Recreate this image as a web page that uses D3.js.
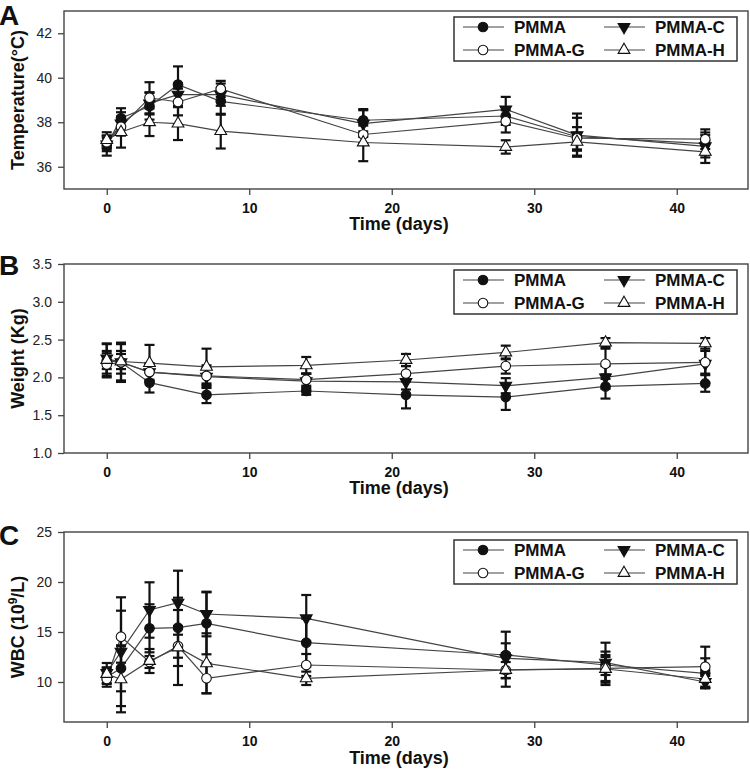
<!DOCTYPE html>
<html>
<head>
<meta charset="utf-8">
<script src="https://cdn.jsdelivr.net/npm/d3@7"></script>
<style>
  body { margin: 0; background: #fff; }
  svg { font-family: "Liberation Sans", Arial, sans-serif; }
</style>
</head>
<body>
<div id="chart"></div>
<script>
// series names (legend order: row 1 PMMA, PMMA-C; row 2 PMMA-G, PMMA-H)
const seriesNames = ['PMMA', 'PMMA-C', 'PMMA-G', 'PMMA-H'];
const xTicks = [0, 10, 20, 30, 40];

// A - temperature
const tempDays = [0, 1, 3, 5, 8, 18, 28, 33, 42];
const tempPMMA  = [36.95, 38.18, 38.72, 39.69, 38.94, 38.09, 38.28, 37.35, 37.04];
const tempPMMAC = [37.0, 37.95, 38.85, 39.24, 39.24, 37.94, 38.58, 37.42, 36.92];
const tempPMMAG = [37.1, 37.8, 39.1, 38.91, 39.5, 37.45, 38.04, 37.28, 37.24];
const tempPMMAH = [37.2, 37.56, 38.0, 37.94, 37.6, 37.09, 36.89, 37.12, 36.67];
const tempErrPMMA  = [0.45, 0.45, 0.6, 0.82, 0.6, 0.5, 0.4, 0.85, 0.5];
const tempErrPMMAC = [0.3, 0.5, 0.5, 0.5, 0.5, 0.6, 0.56, 0.97, 0.5];
const tempErrPMMAG = [0.3, 0.4, 0.7, 0.6, 0.36, 0.4, 0.5, 0.5, 0.44];
const tempErrPMMAH = [0.35, 0.7, 0.62, 0.74, 0.78, 0.84, 0.3, 0.4, 0.5];
const tempTicks = [36, 38, 40, 42];

// B - weight
const weightDays = [0, 1, 3, 7, 14, 21, 28, 35, 42];
const weightPMMA  = [2.22, 2.2, 1.93, 1.77, 1.82, 1.77, 1.74, 1.88, 1.92];
const weightPMMAC = [2.25, 2.2, 2.07, 2.01, 1.95, 1.94, 1.89, 2.0, 2.18];
const weightPMMAG = [2.17, 2.2, 2.07, 2.02, 1.97, 2.05, 2.15, 2.18, 2.2];
const weightPMMAH = [2.23, 2.21, 2.19, 2.14, 2.16, 2.23, 2.33, 2.46, 2.45];
const weightErrPMMA  = [0.22, 0.15, 0.13, 0.11, 0.05, 0.18, 0.17, 0.16, 0.11];
const weightErrPMMAC = [0.2, 0.24, 0.12, 0.15, 0.1, 0.1, 0.1, 0.15, 0.25];
const weightErrPMMAG = [0.15, 0.26, 0.1, 0.1, 0.08, 0.1, 0.1, 0.2, 0.15];
const weightErrPMMAH = [0.12, 0.1, 0.24, 0.24, 0.11, 0.08, 0.09, 0.06, 0.07];
const weightTicks = [1.0, 1.5, 2.0, 2.5, 3.0, 3.5];

// C - white blood cells
const wbcDays = [0, 1, 3, 5, 7, 14, 28, 35, 42];
const wbcPMMA  = [10.5, 11.37, 15.37, 15.43, 15.87, 13.93, 12.7, 11.7, 10.87];
const wbcPMMAC = [10.9, 13.03, 17.2, 17.93, 16.8, 16.37, 12.37, 11.93, 10.0];
const wbcPMMAG = [10.3, 14.53, 12.0, 13.6, 10.37, 11.7, 11.2, 11.37, 11.53];
const wbcPMMAH = [10.8, 10.27, 12.1, 13.45, 11.87, 10.37, 11.2, 11.3, 10.3];
const wbcErrPMMA  = [0.97, 2.3, 2.4, 3.0, 3.1, 2.4, 2.33, 1.0, 1.5];
const wbcErrPMMAC = [1.0, 5.44, 2.77, 3.2, 2.23, 2.33, 1.5, 2.0, 0.6];
const wbcErrPMMAG = [0.5, 2.6, 0.6, 2.0, 1.5, 1.1, 1.67, 1.67, 2.0];
const wbcErrPMMAH = [0.6, 3.3, 1.2, 3.75, 3.0, 0.67, 0.8, 1.2, 0.9];
const wbcTicks = [10, 15, 20, 25];

const width = 750, height = 769,
      left = 64, right = 748;

const svg = d3.select('#chart').append('svg')
  .attr('width', width)
  .attr('height', height);

const x = d3.scaleLinear().domain([-3, 45]).range([left, right]);

// marker per series
const markers = [
  {shape: d3.symbolCircle, size: 72, fill: '#111', rot: 0},
  {shape: d3.symbolTriangle, size: 60, fill: '#111', rot: 180},
  {shape: d3.symbolCircle, size: 72, fill: '#fff', rot: 0},
  {shape: d3.symbolTriangle, size: 60, fill: '#fff', rot: 0}
];

function drawPanel(p) {
  const g = svg.append('g');
  const y = d3.scaleLinear().domain(p.yDomain).range([p.bottom, p.top]);

  // axes
  const xAxis = g.append('g')
    .attr('transform', 'translate(0,' + p.bottom + ')')
    .call(d3.axisBottom(x).tickValues(xTicks).tickSize(6).tickSizeOuter(0).tickPadding(8));
  xAxis.selectAll('text').style('font-size', '14px').style('font-weight', 'bold').attr('fill', '#111');

  const yAxis = g.append('g')
    .attr('transform', 'translate(' + left + ',0)')
    .call(d3.axisLeft(y).tickValues(p.yTicks).tickFormat(p.fmt).tickSize(6).tickSizeOuter(0).tickPadding(6));
  yAxis.selectAll('text').style('font-size', '14px').attr('fill', '#222');

  [xAxis, yAxis].forEach(a => {
    a.select('.domain').remove();
    a.selectAll('line').attr('stroke', '#444').attr('stroke-width', 1.3);
  });

  // frame
  g.append('rect')
    .attr('x', left).attr('y', p.top)
    .attr('width', right - left).attr('height', p.bottom - p.top)
    .attr('fill', 'none').attr('stroke', '#444').attr('stroke-width', 1.4);

  const line = d3.line().x(d => x(d.t)).y(d => y(d.v));

  const data = p.means.map((m, i) => p.days.map((t, j) => ({t: t, v: m[j], e: p.errs[i][j], s: i})));

  // lines
  g.selectAll('.series')
    .data(data)
    .enter()
    .append('path')
      .attr('class', 'series')
      .attr('d', line)
      .attr('fill', 'none')
      .attr('stroke', '#444')
      .attr('stroke-width', 1.2);

  // error bars
  const allPts = data.flat();
  const eb = g.selectAll('.err').data(allPts).enter().append('g').attr('class', 'err')
    .attr('stroke', '#111').attr('stroke-width', 2.2);
  eb.append('line')
    .attr('x1', d => x(d.t)).attr('x2', d => x(d.t))
    .attr('y1', d => y(d.v - d.e)).attr('y2', d => y(d.v + d.e));
  eb.append('line')
    .attr('x1', d => x(d.t) - 5).attr('x2', d => x(d.t) + 5)
    .attr('y1', d => y(d.v + d.e)).attr('y2', d => y(d.v + d.e));
  eb.append('line')
    .attr('x1', d => x(d.t) - 5).attr('x2', d => x(d.t) + 5)
    .attr('y1', d => y(d.v - d.e)).attr('y2', d => y(d.v - d.e));

  // markers
  g.selectAll('.mark')
    .data(allPts)
    .enter()
    .append('path')
      .attr('class', 'mark')
      .attr('d', d => d3.symbol().type(markers[d.s].shape).size(markers[d.s].size)())
      .attr('transform', d => 'translate(' + x(d.t) + ',' + y(d.v) + ') rotate(' + markers[d.s].rot + ')')
      .attr('fill', d => markers[d.s].fill)
      .attr('stroke', '#111')
      .attr('stroke-width', 1.1);

  // legend
  const lg = g.append('g').attr('transform', 'translate(454,' + p.legendTop + ')');
  lg.append('rect')
    .attr('width', 283).attr('height', 44)
    .attr('fill', '#fff').attr('stroke', '#333').attr('stroke-width', 1.5);
  const cols = [9, 150], rows = [10, 33];
  seriesNames.forEach((name, i) => {
    const cx = cols[i % 2], cy = rows[Math.floor(i / 2)];
    lg.append('line')
      .attr('x1', cx).attr('x2', cx + 41).attr('y1', cy).attr('y2', cy)
      .attr('stroke', '#444').attr('stroke-width', 1.2);
    lg.append('path')
      .attr('d', d3.symbol().type(markers[i].shape).size(markers[i].size)())
      .attr('transform', 'translate(' + (cx + 20) + ',' + cy + ') rotate(' + markers[i].rot + ')')
      .attr('fill', markers[i].fill).attr('stroke', '#111').attr('stroke-width', 1.1);
    lg.append('text')
      .attr('x', cx + 51).attr('y', cy + 6)
      .style('font-size', '17px').style('font-weight', 'bold')
      .attr('fill', '#111')
      .text(name);
  });

  // x axis title
  g.append('text')
    .attr('x', 399).attr('y', p.xTitleY)
    .style('text-anchor', 'middle')
    .style('font-size', '18px').style('font-weight', 'bold')
    .attr('fill', '#111')
    .text('Time (days)');

  // y axis title
  const yt = g.append('text')
    .attr('transform', 'translate(24,' + (p.top + p.bottom) / 2 + ') rotate(-90)')
    .style('text-anchor', 'middle')
    .style('font-size', '18px').style('font-weight', 'bold')
    .attr('fill', '#111');
  p.yTitle(yt);

  // panel letter
  g.append('text')
    .attr('x', -1).attr('y', p.letterY)
    .style('font-size', '28px').style('font-weight', 'bold')
    .attr('fill', '#111')
    .text(p.letter);
}

drawPanel({
  top: 11, bottom: 189, yDomain: [35, 43], yTicks: tempTicks, fmt: d3.format('d'),
  days: tempDays,
  means: [tempPMMA, tempPMMAC, tempPMMAG, tempPMMAH],
  errs: [tempErrPMMA, tempErrPMMAC, tempErrPMMAG, tempErrPMMAH],
  legendTop: 17, xTitleY: 230, letter: 'A', letterY: 25,
  yTitle: t => t.text('Temperature(°C)')
});

drawPanel({
  top: 264, bottom: 453, yDomain: [1.0, 3.5], yTicks: weightTicks, fmt: d3.format('.1f'),
  days: weightDays,
  means: [weightPMMA, weightPMMAC, weightPMMAG, weightPMMAH],
  errs: [weightErrPMMA, weightErrPMMAC, weightErrPMMAG, weightErrPMMAH],
  legendTop: 270, xTitleY: 494, letter: 'B', letterY: 275,
  yTitle: t => t.text('Weight (Kg)')
});

drawPanel({
  top: 532, bottom: 722, yDomain: [6, 25], yTicks: wbcTicks, fmt: d3.format('d'),
  days: wbcDays,
  means: [wbcPMMA, wbcPMMAC, wbcPMMAG, wbcPMMAH],
  errs: [wbcErrPMMA, wbcErrPMMAC, wbcErrPMMAG, wbcErrPMMAH],
  legendTop: 540, xTitleY: 764, letter: 'C', letterY: 545,
  yTitle: t => {
    t.append('tspan').text('WBC (10');
    t.append('tspan').attr('dy', -7).style('font-size', '12px').text('9');
    t.append('tspan').attr('dy', 7).text('/L)');
  }
});
</script>
</body>
</html>
